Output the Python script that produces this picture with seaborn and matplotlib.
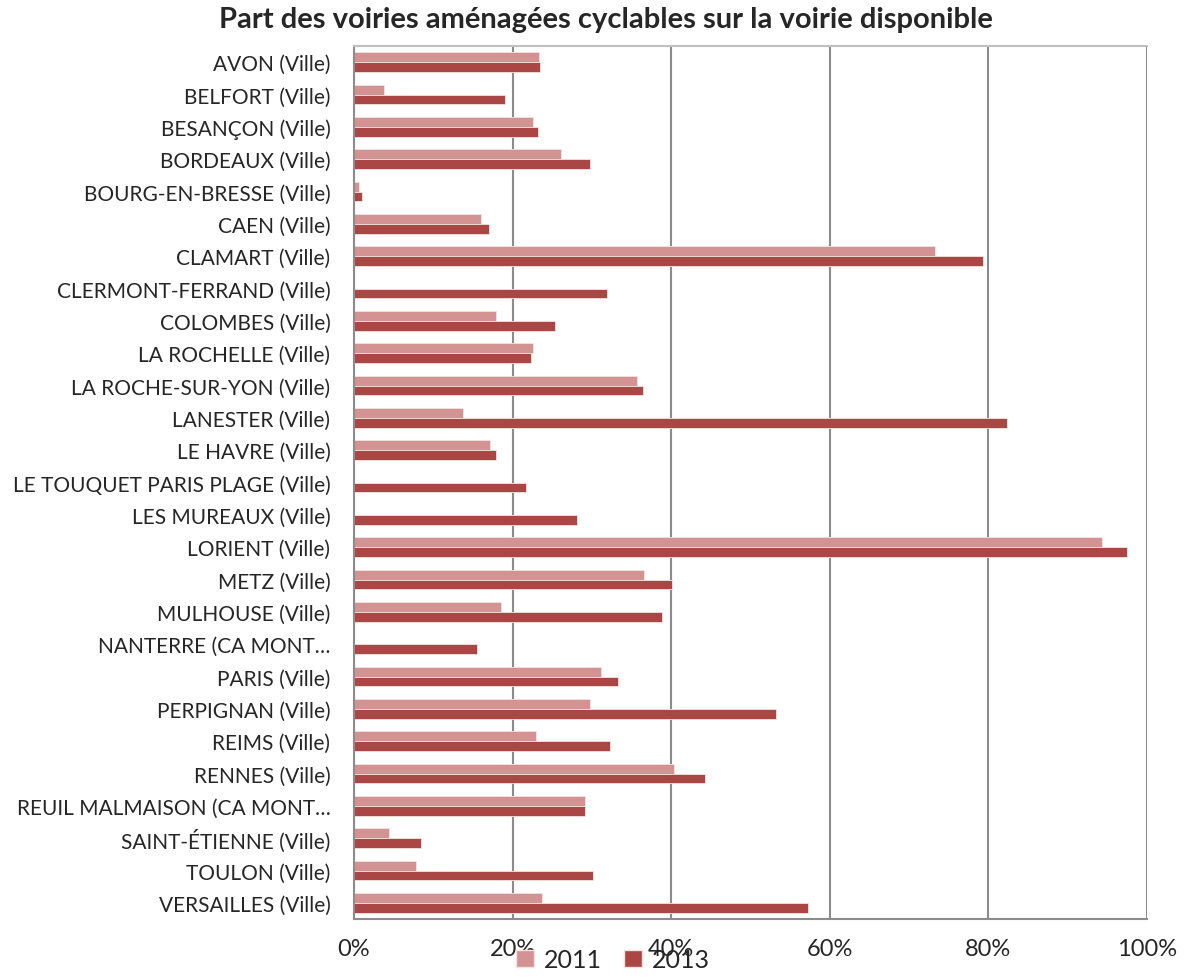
import numpy as np
import pandas as pd
import matplotlib
matplotlib.use('Agg')
import matplotlib.pyplot as plt
import seaborn as sns
from matplotlib.ticker import PercentFormatter, FixedLocator
from matplotlib.patches import Patch

cities = ['AVON (Ville)', 'BELFORT (Ville)', 'BESANÇON (Ville)', 'BORDEAUX (Ville)',
          'BOURG-EN-BRESSE (Ville)', 'CAEN (Ville)', 'CLAMART (Ville)',
          'CLERMONT-FERRAND (Ville)', 'COLOMBES (Ville)', 'LA ROCHELLE (Ville)',
          'LA ROCHE-SUR-YON (Ville)', 'LANESTER (Ville)', 'LE HAVRE (Ville)',
          'LE TOUQUET PARIS PLAGE (Ville)', 'LES MUREAUX (Ville)', 'LORIENT (Ville)',
          'METZ (Ville)', 'MULHOUSE (Ville)', 'NANTERRE (CA MONT…', 'PARIS (Ville)',
          'PERPIGNAN (Ville)', 'REIMS (Ville)', 'RENNES (Ville)',
          'REUIL MALMAISON (CA MONT…', 'SAINT-ÉTIENNE (Ville)', 'TOULON (Ville)',
          'VERSAILLES (Ville)']
v2011 = [23.3, 3.8, 22.6, 26.1, 0.6, 16.0, 73.3, np.nan, 17.9, 22.6, 35.7, 13.7, 17.1,
         np.nan, np.nan, 94.3, 36.6, 18.6, np.nan, 31.1, 29.7, 22.9, 40.4, 29.1, 4.4, 7.8, 23.7]
v2013 = [23.4, 19.0, 23.2, 29.8, 1.0, 17.0, 79.3, 31.9, 25.3, 22.3, 36.5, 82.4, 17.9,
         21.7, 28.1, 97.5, 40.1, 38.9, 15.5, 33.3, 53.2, 32.3, 44.2, 29.1, 8.4, 30.1, 57.3]
years = ['2011', '2013']
colors = ['#D39392', '#AA4744']

df = pd.DataFrame({'ville': cities * 2,
                   'annee': ['2011'] * len(cities) + ['2013'] * len(cities),
                   'part': [v / 100 for v in v2011 + v2013]})

sns.set_style('white')
plt.rcParams['font.family'] = ['Lato', 'DejaVu Sans']

fig = plt.figure(figsize=(11.93, 9.79), dpi=100)
ax = fig.add_axes([354 / 1193, 1 - 920 / 979, (1147 - 354) / 1193, (920 - 47) / 979])

sns.barplot(data=df, y='ville', x='part', hue='annee', order=cities, hue_order=years,
            palette=colors, width=0.6, orient='h', ax=ax, legend=False,
            edgecolor='#f4e2e2', linewidth=0.6, saturation=1)

ax.set_xlim(0, 1)
ax.set_ylim(len(cities) - 0.5, -0.5)
ax.xaxis.set_major_locator(FixedLocator([0, 0.2, 0.4, 0.6, 0.8, 1.0]))
ax.xaxis.set_major_formatter(PercentFormatter(1.0, decimals=0))
ax.grid(axis='x', color='#8c8c8c', linewidth=1.5)
ax.set_axisbelow(True)
ax.set_xlabel('')
ax.set_ylabel('')

ax.yaxis.set_minor_locator(FixedLocator(np.arange(-0.5, len(cities), 1)))
ax.tick_params(axis='y', which='major', length=0, labelsize=15, pad=17)
ax.tick_params(axis='y', which='minor', length=6, width=1.5, color='#8c8c8c', direction='out')
ax.tick_params(axis='x', length=7, width=1.5, color='#8c8c8c', direction='out',
               labelsize=17, pad=7)

for side in ['left', 'bottom']:
    ax.spines[side].set_color('#8c8c8c')
    ax.spines[side].set_linewidth(1.5)
ax.spines['top'].set_color('#c0c0c0')
ax.spines['top'].set_linewidth(1.5)
ax.spines['right'].set_visible(False)

fig.suptitle('Part des voiries aménagées cyclables sur la voirie disponible',
             x=0.508, y=0.993, fontsize=21, fontweight='bold', va='top')

handles = [Patch(facecolor=c, edgecolor='#f4e2e2', label=y) for c, y in zip(colors, years)]
fig.legend(handles=handles, loc='lower center', bbox_to_anchor=(0.514, -0.016), ncol=2,
           frameon=False, fontsize=18, handlelength=0.7, handleheight=0.7,
           handletextpad=0.4, columnspacing=0.9)

fig.savefig('out.png', dpi=100)
